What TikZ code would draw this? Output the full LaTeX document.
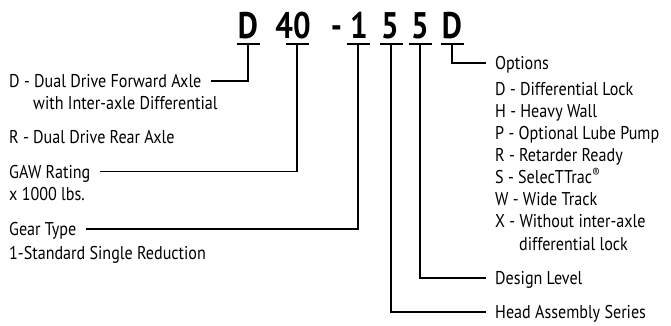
\documentclass[tikz,border=0pt]{standalone}
\usepackage{fontspec}
\setmainfont{PT Sans}[FakeStretch=0.87]
\newfontfamily\codefont{PT Sans}[FakeStretch=0.84]
\usepackage{tikz}
\usetikzlibrary{positioning}

\begin{document}
\begin{tikzpicture}[x=1pt, y=-1pt,
  code/.style={font=\codefont\fontsize{37}{37}\selectfont\bfseries, inner sep=0pt, anchor=base},
  lbl/.style={font=\fontsize{18.5}{20}\selectfont, anchor=west, inner xsep=9.5pt,
    inner ysep=0pt, text height=13pt, text depth=0pt},
  lead/.style={line width=1.1pt}]
\useasboundingbox (0,0) rectangle (671,325);
% model code
\node[code] (cD)   at (248,38)   {D};
\node[code] (c40)  at (293,38)   {40};
\node[code] (cdsh) at (336.5,38) {-};
\node[code] (c1)   at (359,38)   {1};
\node[code] (c5a)  at (390,38)   {5};
\node[code] (c5b)  at (420,38)   {5};
\node[code] (cD2)  at (452,38)   {D};
% underlines below the code letters
\foreach \n/\x in {D/248, 40/297, 1/358, 5a/391, 5b/420, D2/452} {
  \coordinate (u\n) at (\x,44);
  \draw[lead] (u\n) +(-11.5,0) -- +(11.5,0);
}
% left labels
\node[lbl] (fwd)    at (-0.5,81)   {D - Dual Drive Forward Axle};
\node[lbl] (inter)  at (23.5,103)  {with Inter-axle Differential};
\node[lbl] (rear)   at (-0.5,137)  {R - Dual Drive Rear Axle};
\node[lbl] (gaw)    at (-0.5,171.5){GAW Rating};
\node[lbl] (lbs)    at (-0.5,194)  {x 1000 lbs.};
\node[lbl] (gear)   at (-0.5,229)  {Gear Type};
\node[lbl] (single) at (-0.5,253)  {1-Standard Single Reduction};
% right labels
\node[lbl] (opts) at (485.5,63) {Options};
\foreach \t [count=\i] in {D - Differential Lock, H - Heavy Wall,
    P - Optional Lube Pump, R - Retarder Ready, S - SelecTTrac\textsuperscript{®},
    W - Wide Track, X - Without inter-axle}
  \node[lbl] (opt\i) at (485.5,{88.5+22.14*(\i-1)}) {\t};
\node[lbl] (lock)   at (509.5,243.5) {differential lock};
\node[lbl] (design) at (485.5,278)   {Design Level};
\node[lbl] (head)   at (485.5,312)   {Head Assembly Series};
% leaders
\draw[lead] (uD)  |- (fwd.east);
\draw[lead] (u40) |- (gaw.east);
\draw[lead] (u1)  |- (gear.east);
\draw[lead] (u5a) |- (head.west);
\draw[lead] (u5b) |- (design.west);
\draw[lead] (uD2) |- (opts.west);
\end{tikzpicture}
\end{document}
